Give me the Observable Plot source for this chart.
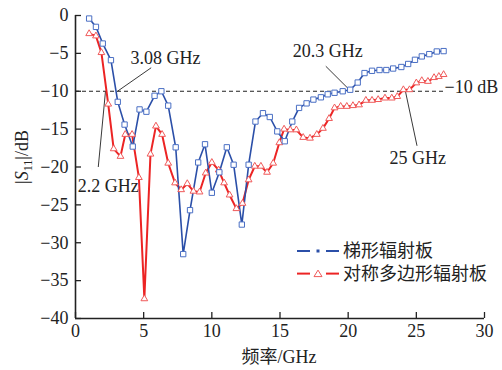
<!DOCTYPE html>
<html>
<head>
<meta charset="utf-8">
<script src="https://cdn.jsdelivr.net/npm/d3@7"></script>
<script src="https://cdn.jsdelivr.net/npm/@observablehq/plot@0.6"></script>
<style>
  html, body { margin: 0; padding: 0; background: #fff; }
  #chart { width: 502px; height: 370px; }
</style>
</head>
<body>
<div id="chart"></div>
<script>
// ---- Data ----
const xTicks = [0, 5, 10, 15, 20, 25, 30];
const yTicks = [0, -5, -10, -15, -20, -25, -30, -35, -40];

const seriesNames = ["梯形辐射板", "对称多边形辐射板"];

const blueX = [1.0,1.5,2.0,2.6,3.1,3.6,4.2,4.7,5.2,5.8,6.3,6.8,7.35,7.9,8.4,9.0,9.5,10.0,10.55,11.1,11.6,12.2,12.7,13.2,13.75,14.25,14.8,15.35,15.9,16.4,16.95,17.45,18.0,18.5,19.0,19.6,20.15,20.7,21.2,21.75,22.3,22.8,23.3,23.9,24.4,24.9,25.4,25.95,26.5,27.0];
const blueY = [-0.4,-1.5,-3.7,-5.9,-11.4,-14.4,-17.3,-12.4,-12.7,-10.6,-10.0,-11.9,-17.4,-31.5,-25.7,-19.4,-17.0,-23.4,-20.7,-17.4,-19.7,-27.6,-19.7,-14.0,-12.9,-13.4,-15.3,-16.6,-14.0,-12.2,-11.6,-11.1,-10.8,-10.4,-10.2,-10.0,-9.8,-8.85,-7.6,-7.3,-7.2,-7.2,-7.0,-6.8,-6.4,-5.85,-5.4,-5.1,-4.75,-4.7];

const redX = [1.0,1.5,1.9,2.4,2.8,3.3,3.65,4.15,4.65,5.05,5.5,5.9,6.35,6.8,7.3,7.75,8.2,8.65,9.1,9.55,10.0,10.5,10.9,11.3,11.8,12.25,12.7,13.15,13.6,14.05,14.5,14.95,15.3,15.75,16.2,16.7,17.2,17.7,18.15,18.6,19.0,19.45,19.9,20.35,20.8,21.3,21.75,22.2,22.7,23.2,23.6,24.05,24.5,25.0,25.4,25.85,26.3,26.65,27.0];
const redY = [-2.4,-2.7,-4.9,-11.7,-17.6,-18.6,-15.7,-15.7,-21.4,-37.4,-18.3,-14.6,-15.7,-19.5,-22.1,-23.0,-22.2,-23.2,-23.3,-20.8,-19.4,-20.4,-22.1,-23.7,-25.5,-24.8,-21.7,-19.9,-19.9,-20.7,-19.5,-16.8,-15.0,-15.1,-15.1,-16.1,-16.2,-15.7,-14.9,-13.6,-12.2,-12.0,-12.0,-11.9,-11.8,-11.2,-11.2,-11.1,-10.9,-10.9,-10.7,-9.8,-9.8,-8.9,-8.6,-8.7,-8.2,-8.05,-7.8];

const refLevel = -10;
const refLineEnd = 27;
const refLabel = "−10 dB";

const annoLabels = ["3.08 GHz", "2.2 GHz", "20.3 GHz", "25 GHz"];
const annoTextX = [6.6, 2.4, 18.5, 25.1];
const annoTextY = [-5.7, -22.5, -4.7, -18.8];
const leaderX1 = [3.08, 2.2, 20.2, 24.2];
const leaderY1 = [-10, -10, -10, -10];
const leaderX2 = [5.55, 1.67, 18.36, 25.05];
const leaderY2 = [-6.9, -20.0, -6.7, -17.2];

// ---- Build tables ----
const blue = blueX.map((x, i) => ({x, y: blueY[i]}));
const red = redX.map((x, i) => ({x, y: redY[i]}));
const annos = annoLabels.map((t, i) => ({t, x: annoTextX[i], y: annoTextY[i], x1: leaderX1[i], y1: leaderY1[i], x2: leaderX2[i], y2: leaderY2[i]}));

const BLUE_LINE = "#2b4fa8", BLUE_MARK = "#4a6fc4";
const RED_LINE = "#ec2424", RED_MARK = "#f05a5a";
const SERIF = "'Liberation Serif', 'Times New Roman', serif";
const CJK = "'Noto Sans CJK SC', sans-serif";

const chart = Plot.plot({
  width: 502,
  height: 370,
  marginLeft: 75,
  marginRight: 18,
  marginTop: 15,
  marginBottom: 52,
  style: {fontFamily: SERIF, fontSize: "18px", color: "#222", background: "#fff"},
  x: {domain: [0, 30]},
  y: {domain: [-40, 0]},
  marks: [
    Plot.axisX({ticks: xTicks, tickSize: -6, tickPadding: 12, label: null, tickFormat: d => String(d), stroke: "#222", strokeWidth: 1.3}),
    Plot.axisY({ticks: yTicks, tickSize: -6, tickPadding: 13, label: null, stroke: "#222", strokeWidth: 1.3}),
    Plot.ruleX([0], {y1: -40, y2: 0, stroke: "#222", strokeWidth: 1.6}),
    Plot.ruleY([-40], {x1: 0, x2: 30, stroke: "#222", strokeWidth: 1.6}),
    Plot.ruleY([refLevel], {x1: 0, x2: refLineEnd, stroke: "#222", strokeWidth: 1.1, strokeDasharray: "4,3"}),
    Plot.text([refLabel], {x: refLineEnd, y: refLevel, text: d => d, textAnchor: "start", lineAnchor: "bottom", dx: 1, dy: 2, fontSize: 18, fill: "#222"}),
    Plot.link(annos, {x1: "x1", y1: "y1", x2: "x2", y2: "y2", stroke: "#222", strokeWidth: 0.9}),
    Plot.text(annos, {x: "x", y: "y", text: "t", fontSize: 18, fill: "#222"}),
    Plot.line(red, {x: "x", y: "y", stroke: RED_LINE, strokeWidth: 2}),
    Plot.line(blue, {x: "x", y: "y", stroke: BLUE_LINE, strokeWidth: 1.6}),
    Plot.dot(red, {x: "x", y: "y", symbol: "triangle", r: 2.5, stroke: RED_MARK, fill: "#fff", strokeWidth: 1}),
    Plot.dot(blue, {x: "x", y: "y", symbol: "square", r: 3, stroke: BLUE_MARK, fill: "#fff", strokeWidth: 1})
  ]
});

document.getElementById("chart").appendChild(chart);

// ---- Axis titles and legend (added to the same SVG as real text) ----
const svg = d3.select(chart);

// x-axis title
const xt = svg.append("text")
  .attr("x", 279).attr("y", 363)
  .attr("text-anchor", "middle")
  .attr("fill", "#222")
  .style("font-size", "18px");
xt.append("tspan").style("font-family", CJK).text("频率");
xt.append("tspan").style("font-family", SERIF).text("/GHz");

// y-axis title
const yt = svg.append("text")
  .attr("transform", "translate(28,157) rotate(-90)")
  .attr("text-anchor", "middle")
  .attr("fill", "#222")
  .style("font-family", SERIF)
  .style("font-size", "18px");
yt.append("tspan").text("|");
yt.append("tspan").style("font-style", "italic").text("S");
yt.append("tspan").attr("dy", 4).style("font-size", "12px").text("11");
yt.append("tspan").attr("dy", -4).text("|/dB");

// legend
const legendItems = [
  {name: seriesNames[0], color: BLUE_LINE, mark: BLUE_MARK, kind: "dot"},
  {name: seriesNames[1], color: RED_LINE, mark: RED_MARK, kind: "triangle"}
];
const lg = svg.append("g").attr("transform", "translate(297,251)");
legendItems.forEach((it, i) => {
  const g = lg.append("g").attr("transform", `translate(0,${i * 22.6})`);
  g.append("line").attr("x1", 0).attr("x2", 13).attr("y1", 0).attr("y2", 0).attr("stroke", it.color).attr("stroke-width", 2);
  g.append("line").attr("x1", 29).attr("x2", 42).attr("y1", 0).attr("y2", 0).attr("stroke", it.color).attr("stroke-width", 2);
  if (it.kind === "dot") {
    g.append("rect").attr("x", 19.5).attr("y", -1.5).attr("width", 3).attr("height", 3).attr("fill", it.color);
  } else {
    g.append("path").attr("d", "M21,-3.5L25,3L17,3Z").attr("fill", "#fff").attr("stroke", it.mark).attr("stroke-width", 1);
  }
  g.append("text").attr("x", 46).attr("y", 0).attr("dy", "0.36em")
    .attr("text-anchor", "start")
    .style("font-family", CJK).style("font-size", "18px").attr("fill", "#222").text(it.name);
});
</script>
</body>
</html>
